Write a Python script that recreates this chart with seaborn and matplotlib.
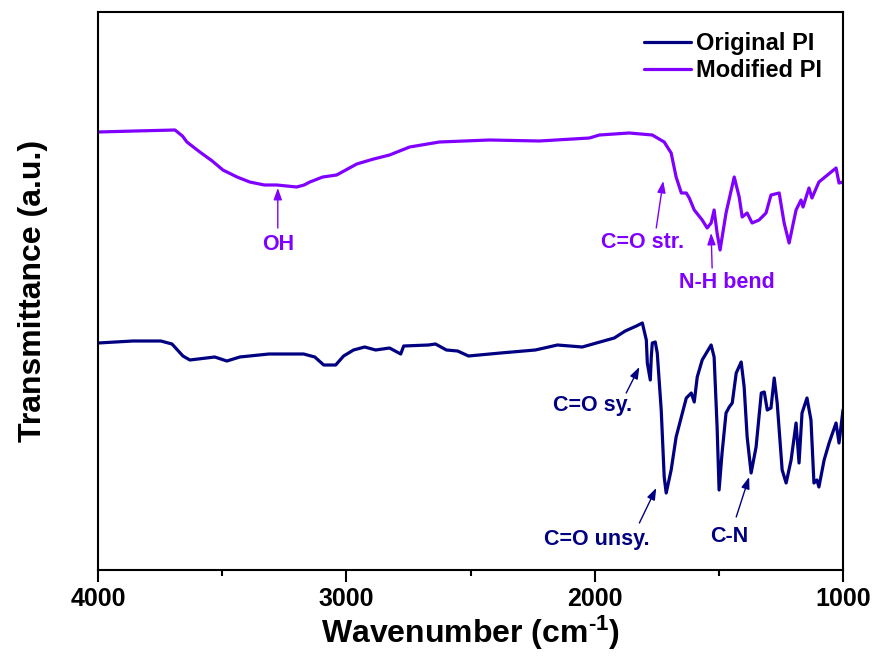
import numpy as np
import pandas as pd
import matplotlib
matplotlib.use("Agg")
import matplotlib.pyplot as plt
import seaborn as sns

# ---- data (y in arbitrary transmittance units) ----
mod_wn = [4000, 3850, 3690, 3660, 3642, 3590, 3540, 3497, 3440, 3389, 3330, 3280, 3240, 3200,
          3170, 3147, 3095, 3039, 2958, 2890,
          2826, 2745, 2625, 2424, 2223, 2021, 1981, 1861, 1768, 1720, 1692, 1672,
          1651, 1631, 1619, 1599, 1567, 1547, 1531, 1519, 1507, 1495, 1471, 1438,
          1418, 1406, 1386, 1366, 1338, 1310, 1290, 1257, 1237, 1217, 1189, 1169,
          1161, 1137, 1125, 1097, 1028, 1016, 1000]
mod_t = [438, 439, 440, 434, 428, 418, 409, 400, 393, 388, 385, 385, 384, 383,
         385, 388, 393, 395, 406, 411,
         415, 423, 428, 430, 429, 432, 435, 437, 435, 428, 417, 393,
         377, 377, 372, 360, 350, 342, 347, 360, 337, 320, 357, 393,
         373, 353, 357, 347, 350, 357, 375, 377, 347, 327, 360, 370,
         363, 382, 372, 388, 402, 387, 388]

orig_wn = [4000, 3859, 3747, 3702, 3658, 3630, 3530, 3481, 3429, 3312, 3172, 3127,
           3091, 3043, 3011, 2971, 2926, 2882, 2826, 2781, 2769, 2669, 2641, 2597,
           2552, 2508, 2379, 2239, 2150, 2050, 1993, 1921, 1877, 1832, 1808, 1792,
           1788, 1776, 1772, 1768, 1756, 1748, 1732, 1720, 1712, 1692, 1672, 1651,
           1631, 1611, 1599, 1587, 1567, 1531, 1519, 1507, 1499, 1487, 1471, 1458,
           1446, 1430, 1410, 1398, 1386, 1370, 1350, 1329, 1317, 1305, 1290, 1277,
           1265, 1245, 1229, 1209, 1189, 1177, 1165, 1145, 1129, 1117, 1105, 1097,
           1076, 1056, 1028, 1016, 1000]
orig_t = [227, 229, 229, 226, 214, 210, 213, 209, 213, 216, 216, 213,
          205, 205, 214, 220, 223, 220, 222, 216, 224, 225, 226, 220,
          219, 214, 217, 220, 225, 223, 227, 232, 239, 244, 247, 230,
          207, 190, 213, 227, 228, 217, 160, 93, 77, 100, 133, 153,
          172, 177, 168, 193, 210, 225, 213, 143, 80, 117, 157, 163,
          167, 197, 208, 183, 133, 97, 123, 177, 178, 160, 162, 192,
          167, 100, 87, 110, 147, 107, 157, 172, 150, 87, 90, 83,
          110, 127, 147, 127, 160]

series_names = ["Original PI", "Modified PI"]
series_colors = ["#000080", "#8000FF"]

x_major = [4000, 3000, 2000, 1000]
x_minor = [3500, 2500, 1500]

df = pd.concat([
    pd.DataFrame({"wn": orig_wn, "T": orig_t, "sample": series_names[0]}),
    pd.DataFrame({"wn": mod_wn, "T": mod_t, "sample": series_names[1]}),
], ignore_index=True)

# ---- style ----
sns.set_style("ticks")
plt.rcParams["font.family"] = ["Liberation Sans", "DejaVu Sans"]
plt.rcParams["font.weight"] = "bold"
plt.rcParams["text.color"] = "black"
plt.rcParams["axes.labelcolor"] = "black"
plt.rcParams["xtick.color"] = "black"
plt.rcParams["mathtext.fontset"] = "custom"
plt.rcParams["mathtext.rm"] = "Liberation Sans:bold"
plt.rcParams["mathtext.bf"] = "Liberation Sans:bold"
plt.rcParams["mathtext.default"] = "rm"

fig = plt.figure(figsize=(8.74, 6.61), dpi=100)
ax = fig.add_axes([98 / 874, 1 - 570 / 661, (843 - 98) / 874, (570 - 12) / 661])

for name, col in zip(series_names, series_colors):
    sub = df[df["sample"] == name]
    sns.lineplot(data=sub, x="wn", y="T", color=col, lw=2.3, label=name,
                 estimator=None, sort=True, ax=ax)

ax.set_xlim(4000, 1000)
ax.set_ylim(0, 558)
ax.set_xticks(x_major)
ax.set_xticks(x_minor, minor=True)
ax.set_xticklabels([str(v) for v in x_major], fontsize=18, fontweight="bold", color="black")
ax.set_yticks([])
ax.tick_params(axis="x", which="major", direction="out", length=8.5, width=1.5, pad=4,
               colors="black")
ax.tick_params(axis="x", which="minor", direction="out", length=4, width=1.5, colors="black")
for s in ax.spines.values():
    s.set_linewidth(1.5)
    s.set_color("black")
    s.set_visible(True)

ax.set_xlabel(r"Wavenumber (cm$^{\text{-1}}$)", fontsize=23, fontweight="bold",
              labelpad=2, color="black")
ax.set_ylabel("Transmittance (a.u.)", fontsize=23, fontweight="bold", labelpad=36,
              color="black")

leg = ax.legend(loc="upper right", bbox_to_anchor=(0.994, 0.993), frameon=False,
                fontsize=17, handlelength=2.0, handletextpad=0.2, labelspacing=0.15,
                borderaxespad=0.3)
for line in leg.get_lines():
    line.set_linewidth(2.3)
for t in leg.get_texts():
    t.set_color("black")

# ---- annotations ----
def arrow(tail, tip, col):
    ax.annotate("", xy=tip, xytext=tail,
                arrowprops=dict(arrowstyle="-|>,head_length=0.7,head_width=0.25",
                                color=col, lw=1.0, shrinkA=0, shrinkB=0))

pc, nc = series_colors[1], series_colors[0]
ann_fs = 15.5
# Modified PI
arrow((3276, 342), (3276, 382), pc)
ax.text(3276, 326, "OH", color=pc, fontsize=ann_fs, fontweight="bold", ha="center", va="center")
arrow((1752, 342), (1724, 389), pc)
ax.text(1808, 328, "C=O str.", color=pc, fontsize=ann_fs, fontweight="bold", ha="center", va="center")
arrow((1527, 302), (1531, 337), pc)
ax.text(1467, 288, "N-H bend", color=pc, fontsize=ann_fs, fontweight="bold", ha="center", va="center")
# Original PI
arrow((1873, 177), (1820, 203), nc)
ax.text(2009, 165, "C=O sy.", color=nc, fontsize=ann_fs, fontweight="bold", ha="center", va="center")
arrow((1820, 47), (1752, 82), nc)
ax.text(1993, 30, "C=O unsy.", color=nc, fontsize=ann_fs, fontweight="bold", ha="center", va="center")
arrow((1430, 53), (1378, 93), nc)
ax.text(1459, 33, "C-N", color=nc, fontsize=ann_fs, fontweight="bold", ha="center", va="center")

fig.savefig("out.png", dpi=100)
